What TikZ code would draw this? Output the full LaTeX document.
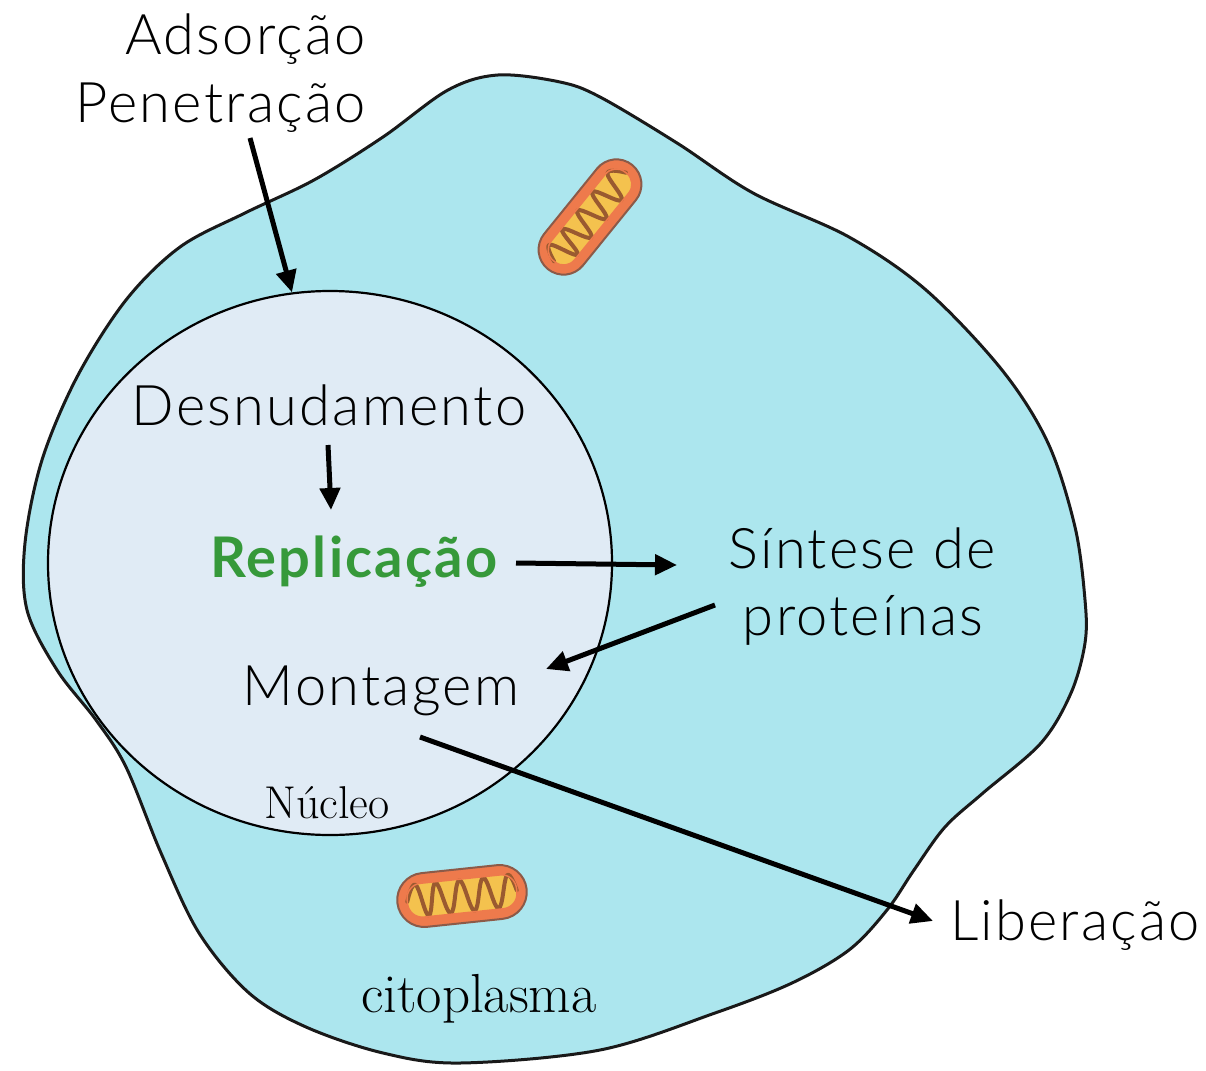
\documentclass[tikz,border=0pt]{standalone}
\usepackage{fontspec}
\usetikzlibrary{arrows.meta,shapes.geometric,calc}
\newfontfamily\labelfont{Lato}[UprightFont={* Light}, BoldFont={* Bold}, LetterSpace=4]
\definecolor{cellfill}{HTML}{ACE6EE}
\definecolor{nucfill}{HTML}{E0EBF5}
\definecolor{repgreen}{HTML}{36993A}
\definecolor{mitoout}{HTML}{EE7A4C}
\definecolor{mitoedge}{HTML}{8C5A48}
\definecolor{mitoin}{HTML}{F4C24E}
\definecolor{crista}{HTML}{9A5A30}

% one mitochondrion: centre x, centre y, angle, length, width
\newcommand\mitochondrion[5]{%
  \begin{scope}[shift={(#1,#2)}, rotate=#3]
    \path[fill=mitoout, draw=mitoedge, line width=2pt, rounded corners=#5/2]
      (-#4/2,-#5/2) rectangle (#4/2,#5/2);
    \path[fill=mitoin, rounded corners=#5/3.6]
      ({-#4/2+10},{-#5/2+10}) rectangle ({#4/2-10},{#5/2-10});
    \draw[crista, line width=4pt, line join=round, line cap=round]
      plot[smooth, tension=0.7] coordinates {
      ({-#4/2+10},0) ({-#4/2+20},{-#5/2+11}) ({-#4/2+30},{#5/2-11})
      ({-#4/2+40},{-#5/2+11}) ({-#4/2+52},{#5/2-11})
      ({-#4/2+64},{-#5/2+11}) ({-#4/2+76},{#5/2-11})
      ({-#4/2+88},{-#5/2+11}) ({-#4/2+100},{#5/2-11})
      ({-#4/2+112},{-#5/2+11}) ({#4/2-10},0)};
    \draw[mitoout, line width=1.5pt, rounded corners=#5/3.6]
      ({-#4/2+10},{-#5/2+10}) rectangle ({#4/2-10},{#5/2-10});
  \end{scope}}

\begin{document}
\begin{tikzpicture}[x=1pt,y=-1pt,
  lbl/.style={font=\labelfont\fontsize{56}{67}\selectfont, inner sep=0pt, anchor=base},
  hand/.style={inner sep=0pt, anchor=base},
  arr/.style={line width=5pt, -{Triangle[length=22pt,width=20pt]}},
]
\useasboundingbox (0,0) rectangle (1206,1070);

% cell membrane and cytoplasm
\draw[fill=cellfill, draw=black!90, line width=3pt]
  plot[smooth cycle, tension=0.55] coordinates {
  (498,75) (560,82) (600,97) (677,143) (753,193) (849,237) (926,290)
  (1002,370) (1048,443) (1075,527) (1085,600) (1085,643) (1071,693)
  (1041,743) (983,793) (945,827) (914,870) (887,910) (849,950)
  (792,983) (715,1013) (600,1050) (460,1063) (383,1053) (306,1027)
  (249,993) (199,933) (161,853) (126,767) (96,720) (57,670) (27,610)
  (25,543) (42,460) (77,377) (126,300) (180,247) (245,213) (314,180)
  (383,137) (448,90)};

% mitochondria
\mitochondrion{590}{217}{51}{134}{50}
\mitochondrion{462}{896}{6}{130}{54}

% nucleus
\node[ellipse, draw, line width=2.2pt, fill=nucfill, inner sep=0pt,
      minimum width=564pt, minimum height=544pt] (nuc) at (330,563) {};

% labels
\node[lbl, anchor=base east] (ads) at (366,55) {Adsorção};
\node[lbl, anchor=base east] (pen) at (366,122) {Penetração};
\node[lbl] (des) at (329,425) {Desnudamento};
\node[lbl, font=\labelfont\bfseries\fontsize{56}{67}\selectfont, text=repgreen] (rep) at (354,577) {Replicação};
\node[lbl] (sin) at (862,568) {Síntese de};
\node[lbl] (pro) at (863,635) {proteínas};
\node[lbl] (mon) at (381,705) {Montagem};
\node[lbl] (lib) at (1075,940) {Liberação};
\node[hand, font=\fontsize{46}{50}\selectfont] (nucl) at (327,818) {Núcleo};
\node[hand, font=\fontsize{55}{60}\selectfont] (cito) at (479,1012) {citoplasma};

% steps of the cycle
\draw[arr] ($(pen.base east)+(-116,16)$) -- (nuc.98);
\draw[arr] ($(des.base)+(-1,20)$) -- ($(rep.base)+(-23,-67)$);
\draw[arr] ($(rep.base)+(162,-14)$) -- ($(sin.base)+(-185,-3)$);
\draw[arr] ($(pro.base)+(-148,-30)$) -- ($(mon.base)+(165,-36)$);
\draw[arr] ($(mon.base)+(39,32)$) -- ($(lib.base)+(-142,-19)$);
\end{tikzpicture}
\end{document}
